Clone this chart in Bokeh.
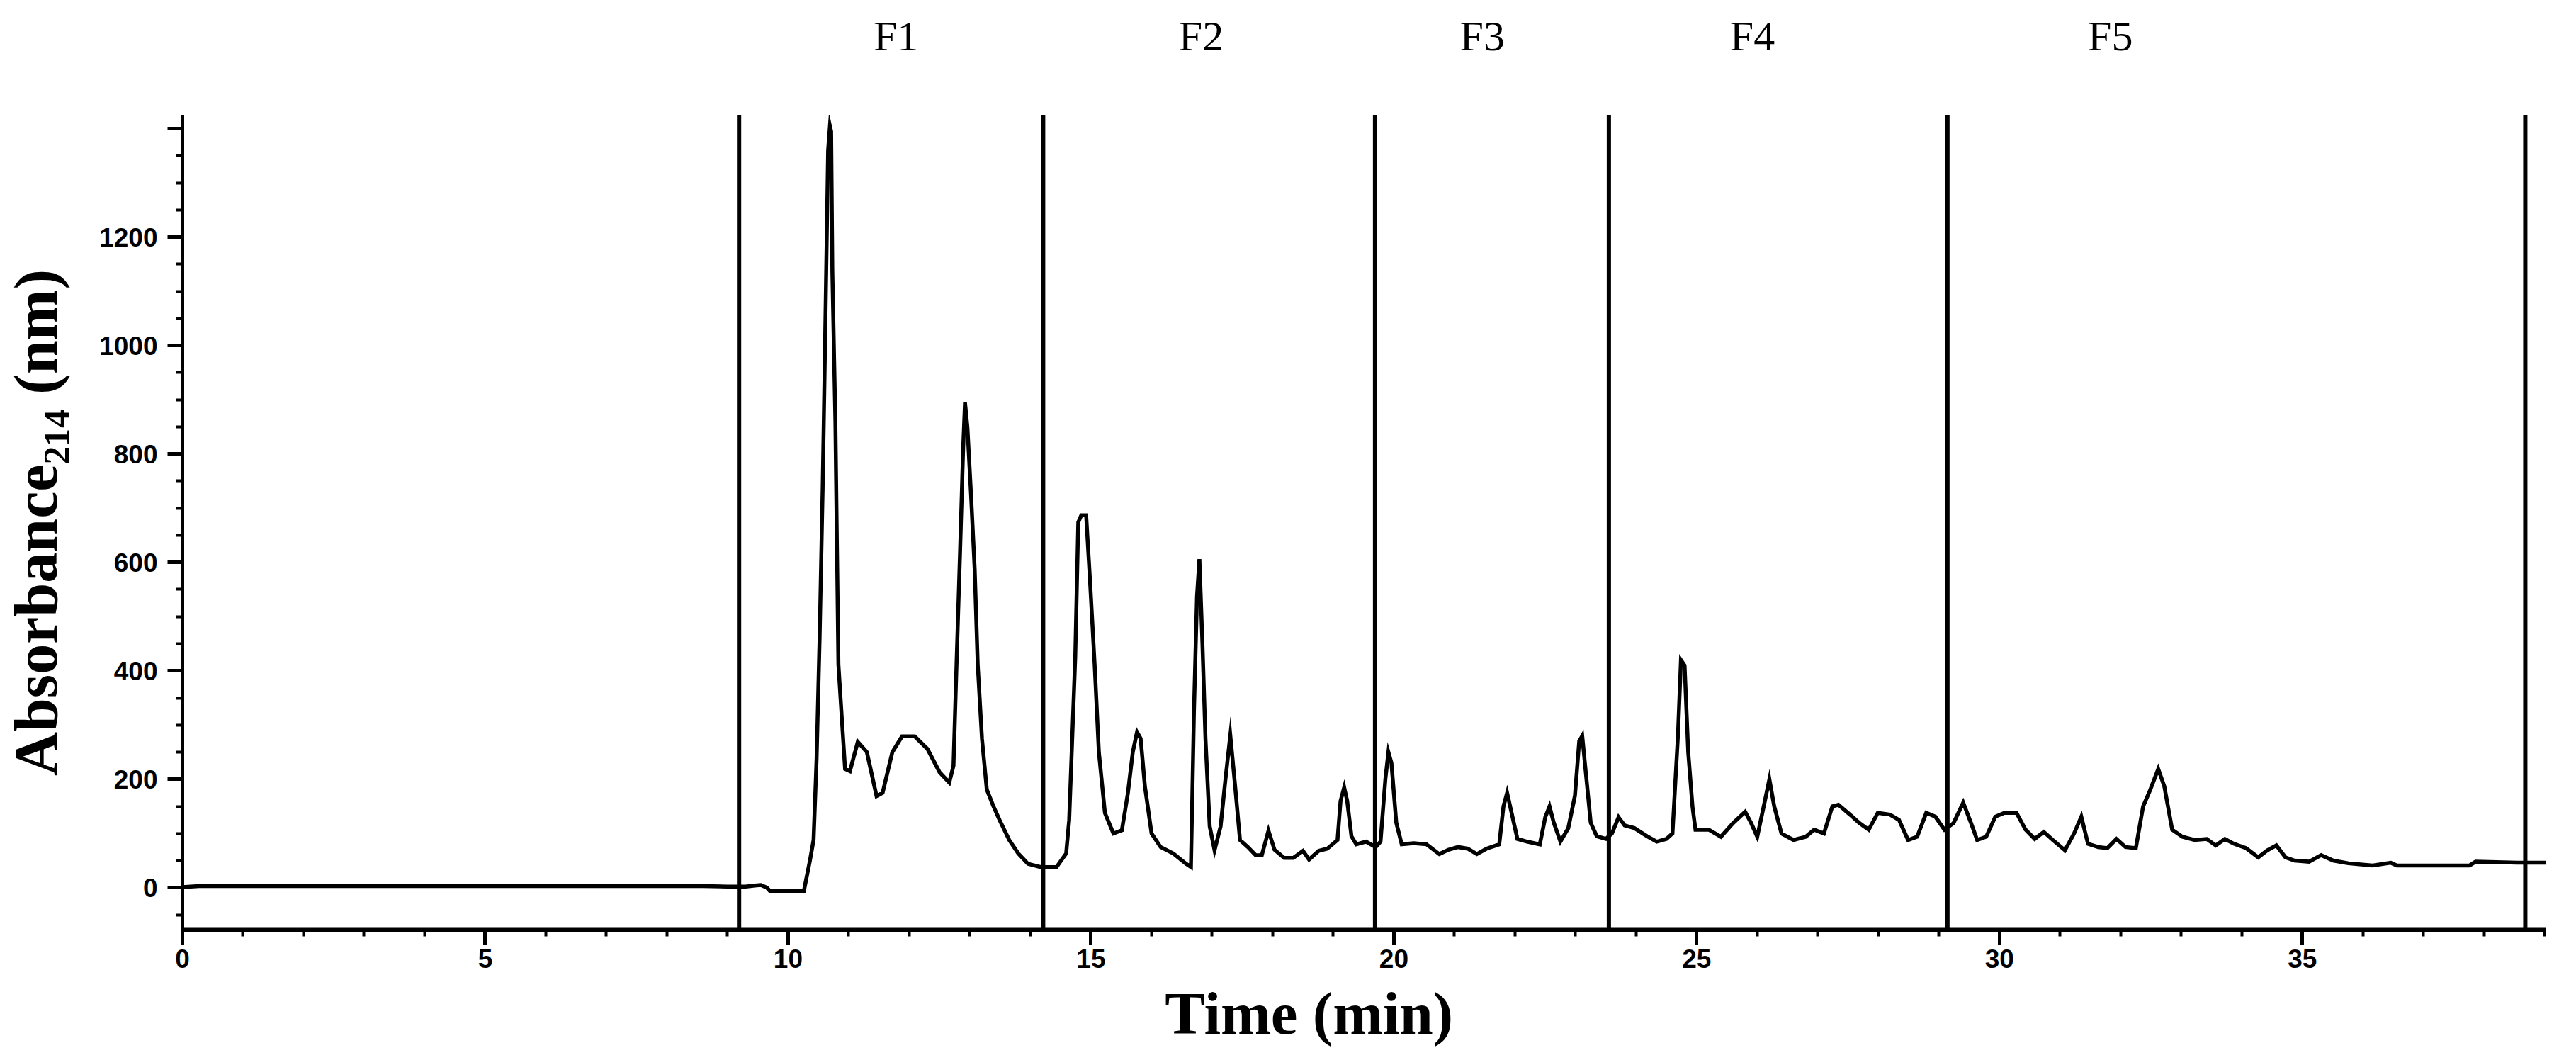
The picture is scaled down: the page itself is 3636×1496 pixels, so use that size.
from bokeh.plotting import figure
from bokeh.models import Range1d, FixedTicker, Span, LinearAxis
from bokeh.embed import file_html
from bokeh.resources import INLINE

# ---- data ----
time_min = [0.0, 0.27, 3.0, 6.0, 8.6, 9.0, 9.3, 9.45, 9.55, 9.65, 9.7, 10.26, 10.36, 10.42, 10.47,
            10.52, 10.57, 10.60, 10.63, 10.66, 10.69, 10.71, 10.73, 10.78, 10.83, 10.89, 10.94,
            11.02, 11.15, 11.3, 11.46, 11.56, 11.72, 11.88, 12.09, 12.3, 12.5, 12.66, 12.73,
            12.78, 12.84, 12.89, 12.92, 12.96, 13.02, 13.08, 13.13, 13.2, 13.28, 13.39, 13.49,
            13.65, 13.8, 13.96, 14.17, 14.43, 14.59, 14.64, 14.69, 14.74, 14.79, 14.84, 14.92,
            14.98, 15.06, 15.13, 15.23, 15.37, 15.51, 15.61, 15.69, 15.76, 15.82, 15.89, 16.0,
            16.15, 16.36, 16.57, 16.65, 16.70, 16.75, 16.79, 16.84, 16.89, 16.96, 17.04, 17.14,
            17.22, 17.3, 17.38, 17.46, 17.59, 17.72, 17.82, 17.93, 18.03, 18.19, 18.34, 18.5,
            18.6, 18.76, 18.9, 19.07, 19.12, 19.18, 19.23, 19.3, 19.38, 19.54, 19.7, 19.78,
            19.86, 19.91, 19.96, 20.04, 20.13, 20.33, 20.54, 20.75, 20.9, 21.06, 21.22, 21.37,
            21.53, 21.74, 21.81, 21.87, 21.94, 22.04, 22.2, 22.41, 22.5, 22.57, 22.64, 22.75,
            22.88, 22.99, 23.06, 23.11, 23.18, 23.25, 23.35, 23.5, 23.6, 23.71, 23.81, 23.97,
            24.18, 24.34, 24.5, 24.6, 24.69, 24.74, 24.8, 24.86, 24.93, 24.98, 25.2, 25.4,
            25.6, 25.8, 25.9, 26.0, 26.12, 26.2, 26.28, 26.4, 26.6, 26.8, 26.94, 27.1, 27.24,
            27.34, 27.54, 27.69, 27.84, 27.99, 28.19, 28.34, 28.49, 28.64, 28.79, 28.94, 29.09,
            29.24, 29.4, 29.53, 29.63, 29.78, 29.93, 30.08, 30.28, 30.43, 30.58, 30.73, 30.88,
            31.08, 31.23, 31.35, 31.46, 31.63, 31.78, 31.93, 32.08, 32.25, 32.37, 32.49, 32.62,
            32.72, 32.85, 33.02, 33.22, 33.42, 33.57, 33.72, 33.87, 34.07, 34.27, 34.42, 34.57,
            34.72, 34.87, 35.11, 35.31, 35.51, 35.76, 36.16, 36.46, 36.56, 37.76, 37.86, 38.55,
            39.02]
absorbance = [1, 3, 3, 3, 3, 2, 2, 4, 5, 0, -6, -6, 50, 88, 238,
              462, 737, 936, 1148, 1360, 1405, 1395, 1136, 861, 412, 306, 219,
              215, 269, 250, 169, 175, 250, 279, 279, 256, 213, 194, 225,
              412, 625, 812, 895, 849, 724, 587, 412, 275, 181, 150, 125,
              88, 63, 44, 38, 38, 63, 125, 275, 425, 674, 687, 687,
              574, 412, 250, 138, 100, 106, 175, 250, 287, 275, 187, 100,
              75, 63, 44, 38, 325, 537, 606, 450, 275, 113, 69, 113,
              200, 281, 187, 88, 75, 60, 60, 105, 70, 55, 55, 68,
              52, 68, 72, 88, 160, 185, 160, 95, 80, 85, 75, 85,
              200, 250, 230, 120, 80, 82, 80, 62, 70, 75, 72, 62,
              72, 80, 150, 175, 140, 90, 85, 80, 130, 150, 120, 85,
              110, 170, 270, 280, 200, 120, 95, 90, 100, 130, 115, 110,
              95, 85, 90, 100, 280, 420, 410, 250, 150, 107, 107, 94,
              119, 140, 119, 94, 157, 200, 150, 100, 88, 94, 107, 100, 150,
              153, 134, 119, 107, 138, 135, 125, 88, 94, 138, 131, 107,
              119, 157, 119, 88, 94, 131, 138, 138, 107, 90, 103, 88,
              69, 100, 131, 81, 75, 73, 90, 75, 73, 150, 181, 219,
              187, 107, 94, 88, 90, 78, 90, 81, 73, 56, 69, 78,
              56, 50, 48, 60, 50, 45, 41, 46, 41, 41, 48, 46,
              46]

fraction_bounds = [9.19, 14.21, 19.69, 23.55, 29.14, 38.68]
fraction_names = ["F1", "F2", "F3", "F4", "F5"]
fraction_label_pos = [11.78, 16.82, 21.46, 25.92, 31.83]

x_major = [0, 5, 10, 15, 20, 25, 30, 35]
x_minor = list(range(0, 40))
y_major = [0, 200, 400, 600, 800, 1000, 1200, 1400]
y_minor = list(range(-50, 1425, 50))

x_title = "Time (min)"
x_title_pos = 18.6
y_title = "Absorbance\u2082\u2081\u2084 (nm)"

# ---- figure ----
p = figure(width=3620, height=1480, output_backend="svg", toolbar_location=None,
           x_range=Range1d(0, 39.02), y_range=Range1d(-78, 1425),
           min_border_left=257, min_border_right=27, min_border_top=162,
           min_border_bottom=168)
p.outline_line_color = None
p.grid.visible = False
p.background_fill_color = "white"

for b in fraction_bounds:
    p.add_layout(Span(location=b, dimension="height", line_color="black", line_width=6))

p.line(time_min, absorbance, line_color="black", line_width=5.5, line_join="miter")

tick_font = "Liberation Sans"
for ax in p.xaxis:
    ax.ticker = FixedTicker(ticks=x_major, minor_ticks=x_minor)
    ax.axis_line_width = 6
    ax.major_tick_line_width = 5
    ax.minor_tick_line_width = 4
    ax.major_tick_out = 21
    ax.major_tick_in = 0
    ax.minor_tick_out = 9
    ax.minor_tick_in = 0
    ax.major_label_text_font = tick_font
    ax.major_label_text_font_style = "bold"
    ax.major_label_text_font_size = "37px"
    ax.major_label_standoff = 6
    ax.major_label_text_color = "black"

for ax in p.yaxis:
    ax.ticker = FixedTicker(ticks=y_major, minor_ticks=y_minor)
    ax.major_label_overrides = {1400: ""}
    ax.axis_line_width = 5
    ax.major_tick_line_width = 5
    ax.minor_tick_line_width = 4
    ax.major_tick_out = 21
    ax.major_tick_in = 0
    ax.minor_tick_out = 9
    ax.minor_tick_in = 0
    ax.major_label_text_font = tick_font
    ax.major_label_text_font_style = "bold"
    ax.major_label_text_font_size = "37px"
    ax.major_label_standoff = 14
    ax.major_label_text_color = "black"
    ax.axis_label = y_title
    ax.axis_label_text_font = "Liberation Serif"
    ax.axis_label_text_font_style = "bold"
    ax.axis_label_text_font_size = "86px"
    ax.axis_label_standoff = 38
    ax.axis_label_text_color = "black"


def text_axis(positions, names, font, size, style, standoff):
    ax = LinearAxis(ticker=FixedTicker(ticks=positions, minor_ticks=[]),
                    major_label_overrides={pos: name for pos, name in zip(positions, names)})
    ax.axis_line_color = None
    ax.major_tick_line_color = None
    ax.minor_tick_line_color = None
    ax.major_tick_out = 0
    ax.major_tick_in = 0
    ax.minor_tick_out = 0
    ax.minor_tick_in = 0
    ax.major_label_text_font = font
    ax.major_label_text_font_size = size
    ax.major_label_text_font_style = style
    ax.major_label_text_color = "black"
    ax.major_label_standoff = standoff
    return ax


# fraction names above the frame
p.add_layout(text_axis(fraction_label_pos, fraction_names, "Liberation Serif", "60px", "normal", 79), "above")
# x-axis title, below the tick labels (slightly left of the frame centre, as in the original)
p.add_layout(text_axis([x_title_pos], [x_title], "Liberation Serif", "85px", "bold", 14), "below")

open("out.html", "w").write(file_html(p, INLINE))
